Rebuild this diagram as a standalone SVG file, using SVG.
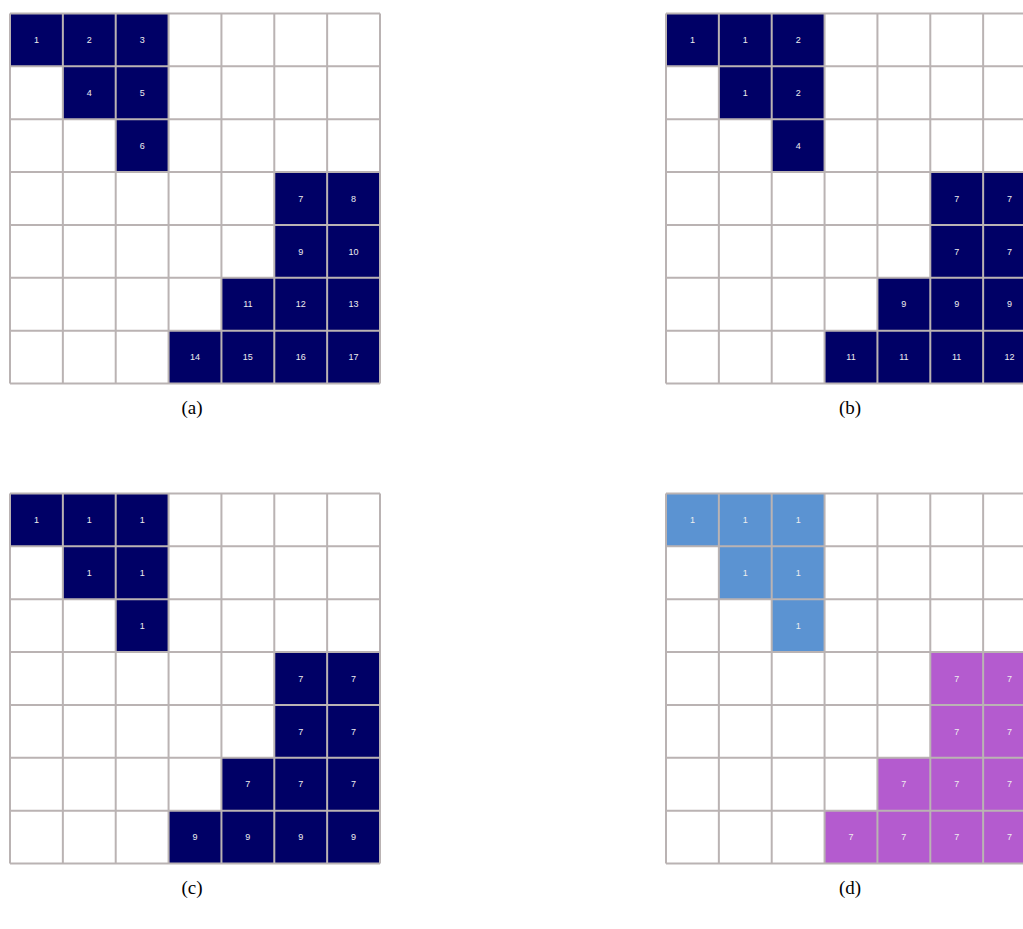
<svg xmlns="http://www.w3.org/2000/svg" width="1023" height="929" viewBox="0 0 1023 929">
<defs>
<style>
.bg{fill:#ffffff}
.nv{fill:#000066}
.bl{fill:#5b93d2}
.pu{fill:#b45bcf}
.t{font-family:"Liberation Sans",Arial,sans-serif;font-size:9px;fill:#eeeeee;text-anchor:middle}
.grid{fill:none;stroke:#bab3b3;stroke-width:2}
.cap{font-family:"Liberation Serif","Times New Roman",serif;font-size:19px;fill:#000;text-anchor:middle}
</style>
<path id="gridlines" d="M0 0V370M52.86 0V370M105.71 0V370M158.57 0V370M211.43 0V370M264.29 0V370M317.14 0V370M370 0V370M0 0H370M0 52.86H370M0 105.71H370M0 158.57H370M0 211.43H370M0 264.29H370M0 317.14H370M0 370H370"/>
</defs>
<rect class="bg" x="0" y="0" width="1023" height="929"/>

<g id="grid-a" transform="translate(10,13.5)">
<g id="a-r0c0"><rect class="nv" x="0" y="0" width="52.86" height="52.86"/><text class="t" x="26.43" y="29.6">1</text></g>
<g id="a-r0c1"><rect class="nv" x="52.86" y="0" width="52.86" height="52.86"/><text class="t" x="79.29" y="29.6">2</text></g>
<g id="a-r0c2"><rect class="nv" x="105.71" y="0" width="52.86" height="52.86"/><text class="t" x="132.14" y="29.6">3</text></g>
<g id="a-r1c1"><rect class="nv" x="52.86" y="52.86" width="52.86" height="52.86"/><text class="t" x="79.29" y="82.5">4</text></g>
<g id="a-r1c2"><rect class="nv" x="105.71" y="52.86" width="52.86" height="52.86"/><text class="t" x="132.14" y="82.5">5</text></g>
<g id="a-r2c2"><rect class="nv" x="105.71" y="105.71" width="52.86" height="52.86"/><text class="t" x="132.14" y="135.3">6</text></g>
<g id="a-r3c5"><rect class="nv" x="264.29" y="158.57" width="52.86" height="52.86"/><text class="t" x="290.71" y="188.2">7</text></g>
<g id="a-r3c6"><rect class="nv" x="317.14" y="158.57" width="52.86" height="52.86"/><text class="t" x="343.57" y="188.2">8</text></g>
<g id="a-r4c5"><rect class="nv" x="264.29" y="211.43" width="52.86" height="52.86"/><text class="t" x="290.71" y="241">9</text></g>
<g id="a-r4c6"><rect class="nv" x="317.14" y="211.43" width="52.86" height="52.86"/><text class="t" x="343.57" y="241">10</text></g>
<g id="a-r5c4"><rect class="nv" x="211.43" y="264.29" width="52.86" height="52.86"/><text class="t" x="237.86" y="293.9">11</text></g>
<g id="a-r5c5"><rect class="nv" x="264.29" y="264.29" width="52.86" height="52.86"/><text class="t" x="290.71" y="293.9">12</text></g>
<g id="a-r5c6"><rect class="nv" x="317.14" y="264.29" width="52.86" height="52.86"/><text class="t" x="343.57" y="293.9">13</text></g>
<g id="a-r6c3"><rect class="nv" x="158.57" y="317.14" width="52.86" height="52.86"/><text class="t" x="185" y="346.8">14</text></g>
<g id="a-r6c4"><rect class="nv" x="211.43" y="317.14" width="52.86" height="52.86"/><text class="t" x="237.86" y="346.8">15</text></g>
<g id="a-r6c5"><rect class="nv" x="264.29" y="317.14" width="52.86" height="52.86"/><text class="t" x="290.71" y="346.8">16</text></g>
<g id="a-r6c6"><rect class="nv" x="317.14" y="317.14" width="52.86" height="52.86"/><text class="t" x="343.57" y="346.8">17</text></g>
<use href="#gridlines" class="grid"/>
</g>

<g id="grid-b" transform="translate(666,13.5)">
<g id="b-r0c0"><rect class="nv" x="0" y="0" width="52.86" height="52.86"/><text class="t" x="26.43" y="29.6">1</text></g>
<g id="b-r0c1"><rect class="nv" x="52.86" y="0" width="52.86" height="52.86"/><text class="t" x="79.29" y="29.6">1</text></g>
<g id="b-r0c2"><rect class="nv" x="105.71" y="0" width="52.86" height="52.86"/><text class="t" x="132.14" y="29.6">2</text></g>
<g id="b-r1c1"><rect class="nv" x="52.86" y="52.86" width="52.86" height="52.86"/><text class="t" x="79.29" y="82.5">1</text></g>
<g id="b-r1c2"><rect class="nv" x="105.71" y="52.86" width="52.86" height="52.86"/><text class="t" x="132.14" y="82.5">2</text></g>
<g id="b-r2c2"><rect class="nv" x="105.71" y="105.71" width="52.86" height="52.86"/><text class="t" x="132.14" y="135.3">4</text></g>
<g id="b-r3c5"><rect class="nv" x="264.29" y="158.57" width="52.86" height="52.86"/><text class="t" x="290.71" y="188.2">7</text></g>
<g id="b-r3c6"><rect class="nv" x="317.14" y="158.57" width="52.86" height="52.86"/><text class="t" x="343.57" y="188.2">7</text></g>
<g id="b-r4c5"><rect class="nv" x="264.29" y="211.43" width="52.86" height="52.86"/><text class="t" x="290.71" y="241">7</text></g>
<g id="b-r4c6"><rect class="nv" x="317.14" y="211.43" width="52.86" height="52.86"/><text class="t" x="343.57" y="241">7</text></g>
<g id="b-r5c4"><rect class="nv" x="211.43" y="264.29" width="52.86" height="52.86"/><text class="t" x="237.86" y="293.9">9</text></g>
<g id="b-r5c5"><rect class="nv" x="264.29" y="264.29" width="52.86" height="52.86"/><text class="t" x="290.71" y="293.9">9</text></g>
<g id="b-r5c6"><rect class="nv" x="317.14" y="264.29" width="52.86" height="52.86"/><text class="t" x="343.57" y="293.9">9</text></g>
<g id="b-r6c3"><rect class="nv" x="158.57" y="317.14" width="52.86" height="52.86"/><text class="t" x="185" y="346.8">11</text></g>
<g id="b-r6c4"><rect class="nv" x="211.43" y="317.14" width="52.86" height="52.86"/><text class="t" x="237.86" y="346.8">11</text></g>
<g id="b-r6c5"><rect class="nv" x="264.29" y="317.14" width="52.86" height="52.86"/><text class="t" x="290.71" y="346.8">11</text></g>
<g id="b-r6c6"><rect class="nv" x="317.14" y="317.14" width="52.86" height="52.86"/><text class="t" x="343.57" y="346.8">12</text></g>
<use href="#gridlines" class="grid"/>
</g>

<g id="grid-c" transform="translate(10,493.5)">
<g id="c-r0c0"><rect class="nv" x="0" y="0" width="52.86" height="52.86"/><text class="t" x="26.43" y="29.6">1</text></g>
<g id="c-r0c1"><rect class="nv" x="52.86" y="0" width="52.86" height="52.86"/><text class="t" x="79.29" y="29.6">1</text></g>
<g id="c-r0c2"><rect class="nv" x="105.71" y="0" width="52.86" height="52.86"/><text class="t" x="132.14" y="29.6">1</text></g>
<g id="c-r1c1"><rect class="nv" x="52.86" y="52.86" width="52.86" height="52.86"/><text class="t" x="79.29" y="82.5">1</text></g>
<g id="c-r1c2"><rect class="nv" x="105.71" y="52.86" width="52.86" height="52.86"/><text class="t" x="132.14" y="82.5">1</text></g>
<g id="c-r2c2"><rect class="nv" x="105.71" y="105.71" width="52.86" height="52.86"/><text class="t" x="132.14" y="135.3">1</text></g>
<g id="c-r3c5"><rect class="nv" x="264.29" y="158.57" width="52.86" height="52.86"/><text class="t" x="290.71" y="188.2">7</text></g>
<g id="c-r3c6"><rect class="nv" x="317.14" y="158.57" width="52.86" height="52.86"/><text class="t" x="343.57" y="188.2">7</text></g>
<g id="c-r4c5"><rect class="nv" x="264.29" y="211.43" width="52.86" height="52.86"/><text class="t" x="290.71" y="241">7</text></g>
<g id="c-r4c6"><rect class="nv" x="317.14" y="211.43" width="52.86" height="52.86"/><text class="t" x="343.57" y="241">7</text></g>
<g id="c-r5c4"><rect class="nv" x="211.43" y="264.29" width="52.86" height="52.86"/><text class="t" x="237.86" y="293.9">7</text></g>
<g id="c-r5c5"><rect class="nv" x="264.29" y="264.29" width="52.86" height="52.86"/><text class="t" x="290.71" y="293.9">7</text></g>
<g id="c-r5c6"><rect class="nv" x="317.14" y="264.29" width="52.86" height="52.86"/><text class="t" x="343.57" y="293.9">7</text></g>
<g id="c-r6c3"><rect class="nv" x="158.57" y="317.14" width="52.86" height="52.86"/><text class="t" x="185" y="346.8">9</text></g>
<g id="c-r6c4"><rect class="nv" x="211.43" y="317.14" width="52.86" height="52.86"/><text class="t" x="237.86" y="346.8">9</text></g>
<g id="c-r6c5"><rect class="nv" x="264.29" y="317.14" width="52.86" height="52.86"/><text class="t" x="290.71" y="346.8">9</text></g>
<g id="c-r6c6"><rect class="nv" x="317.14" y="317.14" width="52.86" height="52.86"/><text class="t" x="343.57" y="346.8">9</text></g>
<use href="#gridlines" class="grid"/>
</g>

<g id="grid-d" transform="translate(666,493.5)">
<g id="d-r0c0"><rect class="bl" x="0" y="0" width="52.86" height="52.86"/><text class="t" x="26.43" y="29.6">1</text></g>
<g id="d-r0c1"><rect class="bl" x="52.86" y="0" width="52.86" height="52.86"/><text class="t" x="79.29" y="29.6">1</text></g>
<g id="d-r0c2"><rect class="bl" x="105.71" y="0" width="52.86" height="52.86"/><text class="t" x="132.14" y="29.6">1</text></g>
<g id="d-r1c1"><rect class="bl" x="52.86" y="52.86" width="52.86" height="52.86"/><text class="t" x="79.29" y="82.5">1</text></g>
<g id="d-r1c2"><rect class="bl" x="105.71" y="52.86" width="52.86" height="52.86"/><text class="t" x="132.14" y="82.5">1</text></g>
<g id="d-r2c2"><rect class="bl" x="105.71" y="105.71" width="52.86" height="52.86"/><text class="t" x="132.14" y="135.3">1</text></g>
<g id="d-r3c5"><rect class="pu" x="264.29" y="158.57" width="52.86" height="52.86"/><text class="t" x="290.71" y="188.2">7</text></g>
<g id="d-r3c6"><rect class="pu" x="317.14" y="158.57" width="52.86" height="52.86"/><text class="t" x="343.57" y="188.2">7</text></g>
<g id="d-r4c5"><rect class="pu" x="264.29" y="211.43" width="52.86" height="52.86"/><text class="t" x="290.71" y="241">7</text></g>
<g id="d-r4c6"><rect class="pu" x="317.14" y="211.43" width="52.86" height="52.86"/><text class="t" x="343.57" y="241">7</text></g>
<g id="d-r5c4"><rect class="pu" x="211.43" y="264.29" width="52.86" height="52.86"/><text class="t" x="237.86" y="293.9">7</text></g>
<g id="d-r5c5"><rect class="pu" x="264.29" y="264.29" width="52.86" height="52.86"/><text class="t" x="290.71" y="293.9">7</text></g>
<g id="d-r5c6"><rect class="pu" x="317.14" y="264.29" width="52.86" height="52.86"/><text class="t" x="343.57" y="293.9">7</text></g>
<g id="d-r6c3"><rect class="pu" x="158.57" y="317.14" width="52.86" height="52.86"/><text class="t" x="185" y="346.8">7</text></g>
<g id="d-r6c4"><rect class="pu" x="211.43" y="317.14" width="52.86" height="52.86"/><text class="t" x="237.86" y="346.8">7</text></g>
<g id="d-r6c5"><rect class="pu" x="264.29" y="317.14" width="52.86" height="52.86"/><text class="t" x="290.71" y="346.8">7</text></g>
<g id="d-r6c6"><rect class="pu" x="317.14" y="317.14" width="52.86" height="52.86"/><text class="t" x="343.57" y="346.8">7</text></g>
<use href="#gridlines" class="grid"/>
</g>

<g id="connectors"></g>

<g id="captions">
<text class="cap" x="192" y="414">(a)</text>
<text class="cap" x="850" y="414">(b)</text>
<text class="cap" x="192" y="894">(c)</text>
<text class="cap" x="850" y="894">(d)</text>
</g>
</svg>
